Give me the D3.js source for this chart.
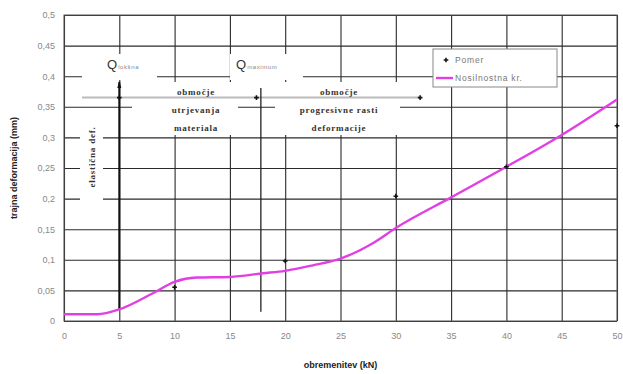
<!DOCTYPE html>
<html>
<head>
<meta charset="utf-8">
<script src="https://cdn.jsdelivr.net/npm/d3@7"></script>
<style>
  body { margin: 0; background: #fff; }
  text { font-family: "Liberation Sans", Arial, sans-serif; }
  .tick text { fill: #888; font-size: 9px; }
  .note { font-family: "Liberation Serif", serif; font-weight: bold; font-size: 9px; fill: #333; letter-spacing: 0.8px; }
</style>
</head>
<body>
<div id="chart"></div>
<script>
let width = 623, height = 374,
    margin = ({ top: 15, right: 6, bottom: 53, left: 64 });

// load values (kN) and measured points
const pointX = [10, 20, 30, 40, 50];
const pointY = [0.055, 0.098, 0.204, 0.252, 0.319];
// fitted curve
const curveX = [0, 3, 5, 8, 10, 12, 15, 18, 20, 22.5, 25, 28, 30, 35, 40, 45, 50];
const curveY = [0.011, 0.011, 0.019, 0.045, 0.064, 0.071, 0.072, 0.078, 0.082, 0.091, 0.102, 0.128, 0.152, 0.202, 0.252, 0.304, 0.362];
const xTicks = [0, 5, 10, 15, 20, 25, 30, 35, 40, 45, 50];
const yTicks = [0, 0.05, 0.1, 0.15, 0.2, 0.25, 0.3, 0.35, 0.4, 0.45, 0.5];
const yLabels = ["0", "0,05", "0,1", "0,15", "0,2", "0,25", "0,3", "0,35", "0,4", "0,45", "0,5"];
// annotation anchors (data units)
const qLimit = 5, qMax = 17.8, arrowEnd = 32.2, arrowY = 0.365;

const svg = d3.select("#chart")
  .append("svg")
  .attr("width", width)
  .attr("height", height);

let x = d3.scaleLinear().domain([0, 50]).range([margin.left, width - margin.right]);
let y = d3.scaleLinear().domain([0, 0.5]).range([height - margin.bottom, margin.top]);

// grid + axes
svg.append("g")
  .attr("transform", `translate(0,${height - margin.bottom})`)
  .call(d3.axisBottom(x).tickValues(xTicks).tickSize(-(height - margin.top - margin.bottom)).tickPadding(12))
  .call(g => g.select(".domain").remove())
  .call(g => g.selectAll(".tick line").attr("stroke", "#2a2a2a").attr("stroke-width", 1.1));

svg.append("g")
  .attr("transform", `translate(${margin.left},0)`)
  .call(d3.axisLeft(y).tickValues(yTicks).tickFormat((d, i) => yLabels[i]).tickSize(-(width - margin.left - margin.right)).tickPadding(9))
  .call(g => g.select(".domain").remove())
  .call(g => g.selectAll(".tick line").attr("stroke", "#2a2a2a").attr("stroke-width", 1.1));

svg.append("rect")
  .attr("x", margin.left).attr("y", margin.top)
  .attr("width", width - margin.left - margin.right)
  .attr("height", height - margin.top - margin.bottom)
  .attr("fill", "none").attr("stroke", "#555");

// white boxes behind the notes
const boxes = [
  [82, 54, 75, 26], [230, 54, 73, 26],
  [132, 82, 106, 53], [275, 82, 125, 53],
  [80, 112, 23, 104]
];
svg.append("g").selectAll("rect").data(boxes).join("rect")
  .attr("x", d => d[0]).attr("y", d => d[1])
  .attr("width", d => d[2]).attr("height", d => d[3])
  .attr("fill", "#fff");

// horizontal grey arrow
svg.append("line")
  .attr("x1", 82).attr("x2", x(arrowEnd))
  .attr("y1", y(arrowY)).attr("y2", y(arrowY))
  .attr("stroke", "#bbb").attr("stroke-width", 2);

// vertical markers
svg.append("line")
  .attr("x1", x(qLimit)).attr("x2", x(qLimit))
  .attr("y1", 82).attr("y2", y(0.019))
  .attr("stroke", "#111").attr("stroke-width", 2);
svg.append("path")
  .attr("d", `M${x(qLimit) - 2},${88} L${x(qLimit)},${81} L${x(qLimit) + 2},${88}Z`)
  .attr("fill", "#111");
svg.append("line")
  .attr("x1", x(qMax)).attr("x2", x(qMax))
  .attr("y1", 88).attr("y2", y(0.015))
  .attr("stroke", "#222").attr("stroke-width", 1.3);

// curve
svg.append("path")
  .datum(curveX.map((d, i) => [d, curveY[i]]))
  .attr("fill", "none")
  .attr("stroke", "#e23fe2")
  .attr("stroke-width", 2.4)
  .attr("d", d3.line().x(d => x(d[0])).y(d => y(d[1])).curve(d3.curveMonotoneX));

// measured points + arrow marks
const plus = d3.symbol().type(d3.symbolCross).size(12);
svg.append("g").selectAll("path")
  .data(pointX.map((d, i) => [d, pointY[i]]).concat([[qLimit, arrowY], [qMax - 0.4, arrowY], [arrowEnd, arrowY]]))
  .join("path")
  .attr("transform", d => `translate(${x(d[0])},${y(d[1])})`)
  .attr("d", plus)
  .attr("fill", "#111");

// notes
const q = [[107, "lokšna"], [236, "maximum"]];
q.forEach(([px, sub]) => {
  const t = svg.append("text").attr("x", px).attr("y", 69).attr("fill", "#333");
  t.append("tspan").attr("font-size", 13).text("Q");
  t.append("tspan").attr("font-size", 6).attr("fill", "#888").attr("dx", 1).attr("letter-spacing", 0.6).text(sub);
});

const notes1 = ["območje", "utrjevanja", "materiala"];
const notes2 = ["območje", "progresivne rasti", "deformacije"];
const lineY = [95, 113, 131];
svg.append("g").selectAll("text").data(notes1).join("text")
  .attr("class", "note").attr("text-anchor", "middle")
  .attr("x", 196).attr("y", (d, i) => lineY[i]).text(d => d);
svg.append("g").selectAll("text").data(notes2).join("text")
  .attr("class", "note").attr("text-anchor", "middle")
  .attr("x", 339).attr("y", (d, i) => lineY[i]).text(d => d);
svg.append("text")
  .attr("class", "note").attr("text-anchor", "middle")
  .attr("transform", "translate(95,157) rotate(-90)")
  .text("elastična def.");

// legend
const lg = svg.append("g").attr("transform", "translate(433,49)");
lg.append("rect").attr("width", 124).attr("height", 38)
  .attr("fill", "#fff").attr("stroke", "#888");
lg.append("path").attr("transform", "translate(13,11)").attr("d", plus).attr("fill", "#111");
lg.append("text").attr("x", 22).attr("y", 14).attr("font-size", 8.5).attr("fill", "#777")
  .attr("letter-spacing", 0.8).text("Pomer");
lg.append("line").attr("x1", 3).attr("x2", 20).attr("y1", 29).attr("y2", 29)
  .attr("stroke", "#e23fe2").attr("stroke-width", 2.4);
lg.append("text").attr("x", 22).attr("y", 32).attr("font-size", 8.5).attr("fill", "#777")
  .attr("letter-spacing", 0.8).text("Nosilnostna kr.");

// axis titles
svg.append("text")
  .attr("x", x(25)).attr("y", 368)
  .attr("text-anchor", "middle").attr("font-size", 9).attr("font-weight", "bold")
  .attr("fill", "#222").text("obremenitev (kN)");
svg.append("text")
  .attr("transform", `translate(17,${y(0.25)}) rotate(-90)`)
  .attr("text-anchor", "middle").attr("font-size", 9).attr("font-weight", "bold")
  .attr("fill", "#222").text("trajna deformacija (mm)");
</script>
</body>
</html>
